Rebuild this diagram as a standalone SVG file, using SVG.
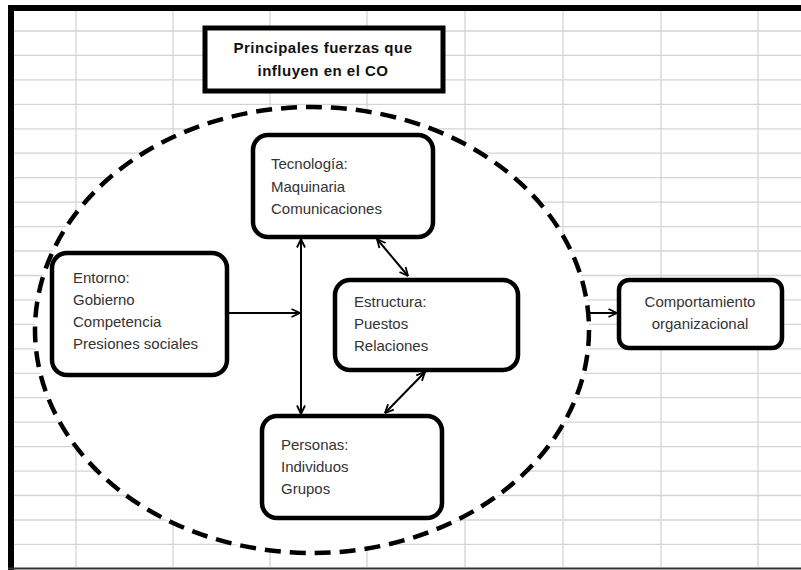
<svg xmlns="http://www.w3.org/2000/svg" width="801" height="570" viewBox="0 0 801 570">
<defs>
<marker id="arr" viewBox="0 0 10 10" refX="9.5" refY="5" markerWidth="10" markerHeight="10" markerUnits="userSpaceOnUse" orient="auto-start-reverse">
<path d="M1,1 L9.5,5 L1,9" fill="none" stroke="#000" stroke-width="1.8"/>
</marker>
</defs>
<style>
.grid line{stroke:#d4d4d8;stroke-width:1.3}
.box{fill:#fff;stroke:#000;stroke-width:4.5}
.t{font-family:"Liberation Sans",Arial,sans-serif;font-size:15px;fill:#333}
.title{font-family:"Liberation Sans",Arial,sans-serif;font-size:15px;font-weight:bold;fill:#111;text-anchor:middle;letter-spacing:0.5px}
.con{stroke:#000;stroke-width:2;fill:none}
</style>
<rect x="0" y="0" width="801" height="570" fill="#fff"/>
<g class="grid">
<line x1="76" y1="11" x2="76" y2="567"/>
<line x1="173" y1="11" x2="173" y2="567"/>
<line x1="270" y1="11" x2="270" y2="567"/>
<line x1="367" y1="11" x2="367" y2="567"/>
<line x1="465" y1="11" x2="465" y2="567"/>
<line x1="563" y1="11" x2="563" y2="567"/>
<line x1="661" y1="11" x2="661" y2="567"/>
<line x1="758" y1="11" x2="758" y2="567"/>
<line x1="14" y1="31" x2="801" y2="31"/>
<line x1="14" y1="55.4" x2="801" y2="55.4"/>
<line x1="14" y1="79.9" x2="801" y2="79.9"/>
<line x1="14" y1="104.3" x2="801" y2="104.3"/>
<line x1="14" y1="128.8" x2="801" y2="128.8"/>
<line x1="14" y1="153.2" x2="801" y2="153.2"/>
<line x1="14" y1="177.7" x2="801" y2="177.7"/>
<line x1="14" y1="202.1" x2="801" y2="202.1"/>
<line x1="14" y1="226.6" x2="801" y2="226.6"/>
<line x1="14" y1="251" x2="801" y2="251"/>
<line x1="14" y1="275.5" x2="801" y2="275.5"/>
<line x1="14" y1="299.9" x2="801" y2="299.9"/>
<line x1="14" y1="324.4" x2="801" y2="324.4"/>
<line x1="14" y1="348.8" x2="801" y2="348.8"/>
<line x1="14" y1="373.3" x2="801" y2="373.3"/>
<line x1="14" y1="397.7" x2="801" y2="397.7"/>
<line x1="14" y1="422.2" x2="801" y2="422.2"/>
<line x1="14" y1="446.6" x2="801" y2="446.6"/>
<line x1="14" y1="471.1" x2="801" y2="471.1"/>
<line x1="14" y1="495.5" x2="801" y2="495.5"/>
<line x1="14" y1="520" x2="801" y2="520"/>
<line x1="14" y1="544.4" x2="801" y2="544.4"/>
</g>
<g id="frame">
<line x1="8" y1="8" x2="801" y2="8" stroke="#000" stroke-width="6"/>
<line x1="11" y1="5" x2="11" y2="570" stroke="#000" stroke-width="6"/>
<line x1="8" y1="568.5" x2="801" y2="568.5" stroke="#333" stroke-width="2"/>
</g>
<g id="boundary">
<ellipse cx="312" cy="330" rx="277" ry="223" fill="#fff" stroke="#000" stroke-width="4.5" stroke-dasharray="16 9"/>
</g>
<g id="title">
<rect x="205" y="28" width="238" height="63" fill="#fff" stroke="#000" stroke-width="5"/>
<text class="title" x="323" y="53">Principales fuerzas que</text>
<text class="title" x="323" y="76">influyen en el CO</text>
</g>
<g id="connectors">
<line class="con" x1="227" y1="313" x2="300" y2="313" marker-end="url(#arr)"/>
<line class="con" x1="301" y1="239" x2="301" y2="414" marker-start="url(#arr)" marker-end="url(#arr)"/>
<line class="con" x1="377" y1="239" x2="408" y2="276" marker-start="url(#arr)" marker-end="url(#arr)"/>
<line class="con" x1="425" y1="372" x2="385" y2="413" marker-start="url(#arr)" marker-end="url(#arr)"/>
<line class="con" x1="587" y1="313" x2="617" y2="313" stroke-width="2.5" marker-end="url(#arr)"/>
</g>
<g id="entorno">
<rect class="box" x="52" y="253" width="175" height="122" rx="15"/>
<text class="t" x="73" y="283">Entorno:</text>
<text class="t" x="73" y="305">Gobierno</text>
<text class="t" x="73" y="327">Competencia</text>
<text class="t" x="73" y="349">Presiones sociales</text>
</g>
<g id="tecnologia">
<rect class="box" x="253" y="135" width="180" height="102" rx="15"/>
<text class="t" x="271" y="169">Tecnología:</text>
<text class="t" x="271" y="192">Maquinaria</text>
<text class="t" x="271" y="214">Comunicaciones</text>
</g>
<g id="estructura">
<rect class="box" x="335" y="280" width="183" height="90" rx="15"/>
<text class="t" x="354" y="307">Estructura:</text>
<text class="t" x="354" y="329">Puestos</text>
<text class="t" x="354" y="351">Relaciones</text>
</g>
<g id="personas">
<rect class="box" x="262" y="416" width="180" height="102" rx="15"/>
<text class="t" x="281" y="450">Personas:</text>
<text class="t" x="281" y="472">Individuos</text>
<text class="t" x="281" y="494">Grupos</text>
</g>
<g id="comportamiento">
<rect class="box" x="619" y="280" width="163" height="68" rx="10"/>
<text class="t" x="700" y="307" text-anchor="middle">Comportamiento</text>
<text class="t" x="700" y="329" text-anchor="middle">organizacional</text>
</g>
</svg>
